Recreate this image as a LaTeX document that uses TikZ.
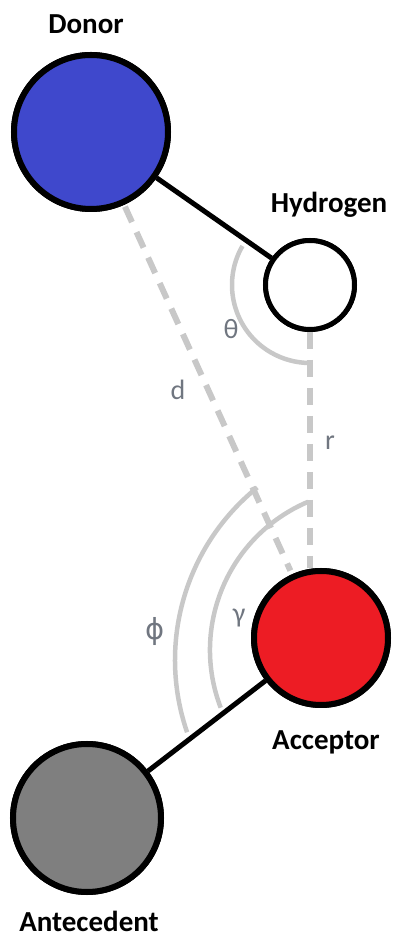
\documentclass[tikz,border=0pt]{standalone}
\usepackage{fontspec}
\setmainfont{Carlito}
\newfontfamily\phifont{DejaVu Sans}
\definecolor{donorblue}{RGB}{63,72,204}
\definecolor{accred}{RGB}{237,28,36}
\definecolor{antgray}{RGB}{127,127,127}
\definecolor{ltgray}{RGB}{200,200,200}
\definecolor{lblgray}{RGB}{112,118,128}
\tikzset{
  atom/.style={circle, draw=black, line width=6pt, inner sep=0pt},
  bond/.style={draw=black, line width=5pt},
  dashline/.style={draw=ltgray, line width=6pt, dash pattern=on 17pt off 11pt},
  anglearc/.style={draw=ltgray, line width=4.5pt},
  atomlabel/.style={font=\fontsize{29}{30}\selectfont\bfseries, anchor=base, inner sep=0pt},
  greeklabel/.style={font=\fontsize{28}{30}\selectfont, text=lblgray, inner sep=0pt}
}
\begin{document}
\begin{tikzpicture}[x=1pt,y=1pt]
\useasboundingbox (0,0) rectangle (393,938);
% atoms
\node[atom, fill=donorblue, minimum size=154pt] (donor) at (91,806) {};
\node[atom, fill=white, line width=5pt, minimum size=89pt] (hydrogen) at (310,653) {};
\node[atom, fill=accred, minimum size=134pt] (acceptor) at (321,300) {};
\node[atom, fill=antgray, minimum size=148pt] (antecedent) at (87,120) {};
% dashed distances
\draw[dashline, shorten <=82pt, shorten >=74pt] (donor.center) -- (acceptor.center);
\draw[dashline] (hydrogen.south) -- (hydrogen.south |- acceptor.north);
% angle arcs
\draw[anglearc] ([shift={(150:78)}]hydrogen.center) arc[start angle=150, end angle=270, radius=78];
\coordinate (gc) at ([shift={(50,-12)}]acceptor.center);
\coordinate (pc) at ([shift={(76,-22)}]acceptor.center);
\draw[anglearc] ([shift={(113:161)}]gc) arc[start angle=113, end angle=201, radius=161];
\draw[anglearc] ([shift={(129:222)}]pc) arc[start angle=129, end angle=199, radius=222];
% bonds
\draw[bond] (donor) -- (hydrogen);
\draw[bond] (acceptor) -- (antecedent);
% redraw atoms on top of arcs/lines
\node[atom, fill=donorblue, minimum size=154pt] at (donor.center) {};
\node[atom, fill=white, line width=5pt, minimum size=89pt] at (hydrogen.center) {};
\node[atom, fill=accred, minimum size=134pt] at (acceptor.center) {};
\node[atom, fill=antgray, minimum size=148pt] at (antecedent.center) {};
% names
\node[atomlabel] (ldonor) at (86,904) {Donor};
\node[atomlabel] (lhyd) at (329,725) {Hydrogen};
\node[atomlabel] (lacc) at (326,188) {Acceptor};
\node[atomlabel] (lant) at (89,6) {Antecedent};
% angle / distance labels
\node[greeklabel] (ltheta) at (231,609) {θ};
\node[greeklabel] (ld) at (178,548) {d};
\node[greeklabel] (lr) at (330,495) {r};
\node[greeklabel, font=\fontsize{29}{30}\phifont] (lphi) at (155,306) {ϕ};
\node[greeklabel] (lgamma) at (239,320) {γ};
\end{tikzpicture}
\end{document}
